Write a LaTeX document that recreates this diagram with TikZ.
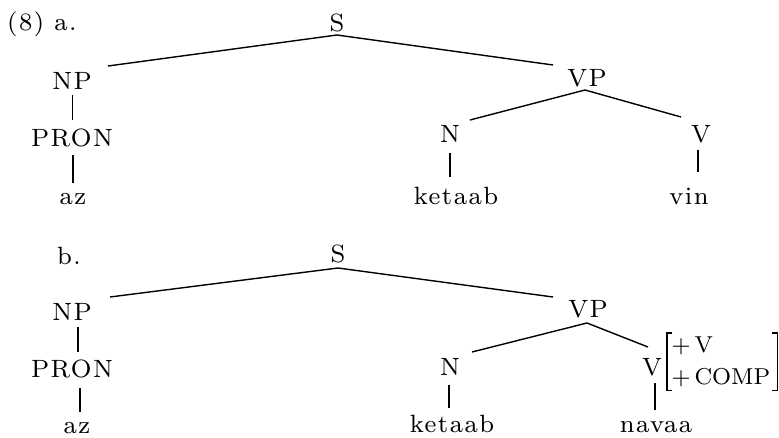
\documentclass[tikz,border=0pt]{standalone}
\usepackage{fontspec}
\setmainfont{lmroman8-regular.otf}[LetterSpace=6]
\begin{document}
\begin{tikzpicture}[x=1pt,y=1pt,
  lbl/.style={anchor=base, inner sep=0pt, font=\fontsize{25}{30}\selectfont},
  edge/.style={line width=1.4pt},
  feat/.style={anchor=west, inner xsep=4.5pt, inner ysep=0pt, minimum height=57pt,
    text width=101pt, align=left, font=\fontsize{23}{32}\selectfont\addfontfeature{LetterSpace=0}},
  brk/.style={line width=1.4pt}]
\useasboundingbox (0,0) rectangle (779,437);
% ---------- tree a ----------
\node[lbl, anchor=base west] (lab8a) at (7,406) {(8) a.};
\node[lbl] (aS) at (337,405) {S};
\node[lbl] (aNP) at (72,347) {NP};
\node[lbl] (aPRON) at (72,290) {PRON};
\node[lbl] (aaz) at (73,232) {az};
\node[lbl] (aVP) at (587,350) {VP};
\node[lbl] (aN) at (450,294) {N};
\node[lbl] (aketaab) at (456,232) {ketaab};
\node[lbl] (aV) at (701,294) {V};
\node[lbl] (avin) at (689,232) {vin};
\coordinate (aSb) at (337,402);
\coordinate (aNPt) at (108,371);
\coordinate (aVPt) at (553,372);
\coordinate (aNPb) at (72.5,342);
\coordinate (aPRONt) at (72.5,317);
\coordinate (aPRONb) at (73,282);
\coordinate (aazt) at (73,254);
\coordinate (aVPb) at (585,347);
\coordinate (aNt) at (470,317);
\coordinate (aVt) at (681,320);
\coordinate (aNb) at (450,284);
\coordinate (akett) at (450,260);
\coordinate (aVb) at (698,287);
\coordinate (avint) at (698,265);
\draw[edge] (aNPt) -- (aSb) -- (aVPt);
\draw[edge] (aNPb) -- (aPRONt);
\draw[edge] (aPRONb) -- (aazt);
\draw[edge] (aNt) -- (aVPb) -- (aVt);
\draw[edge] (aNb) -- (akett);
\draw[edge] (aVb) -- (avint);
% ---------- tree b ----------
\node[lbl, anchor=base west] (labb) at (57,172) {b.};
\node[lbl] (bS) at (338,175) {S};
\node[lbl] (bNP) at (72,117) {NP};
\node[lbl] (bPRON) at (72,60) {PRON};
\node[lbl] (baz) at (77,4) {az};
\node[lbl] (bVP) at (588,120) {VP};
\node[lbl] (bN) at (450,62) {N};
\node[lbl] (bketaab) at (452,5) {ketaab};
\node[lbl] (bV) at (652,62) {V};
\node[lbl] (bnavaa) at (656,5) {navaa};
\node[feat] (bfeat) at (667,75.5) {+\,V\\+\,COMP};
\coordinate (bSb) at (338,169);
\coordinate (bNPt) at (110,140);
\coordinate (bVPt) at (553,140);
\coordinate (bNPb) at (78,110);
\coordinate (bPRONt) at (78,85);
\coordinate (bPRONb) at (80,49);
\coordinate (bazt) at (80,25);
\coordinate (bVPb) at (587,114);
\coordinate (bNt) at (472,85);
\coordinate (bVt) at (648,90);
\coordinate (bNb) at (449,52);
\coordinate (bkett) at (449,29);
\coordinate (bVb) at (655,54);
\coordinate (bnavt) at (655,27);
\draw[edge] (bNPt) -- (bSb) -- (bVPt);
\draw[edge] (bNPb) -- (bPRONt);
\draw[edge] (bPRONb) -- (bazt);
\draw[edge] (bNt) -- (bVPb) -- (bVt);
\draw[edge] (bNb) -- (bkett);
\draw[edge] (bVb) -- (bnavt);
\draw[brk] ([xshift=5pt]bfeat.north west) -- (bfeat.north west) -- (bfeat.south west) -- ([xshift=5pt]bfeat.south west);
\draw[brk] ([xshift=-5pt]bfeat.north east) -- (bfeat.north east) -- (bfeat.south east) -- ([xshift=-5pt]bfeat.south east);
\end{tikzpicture}
\end{document}
